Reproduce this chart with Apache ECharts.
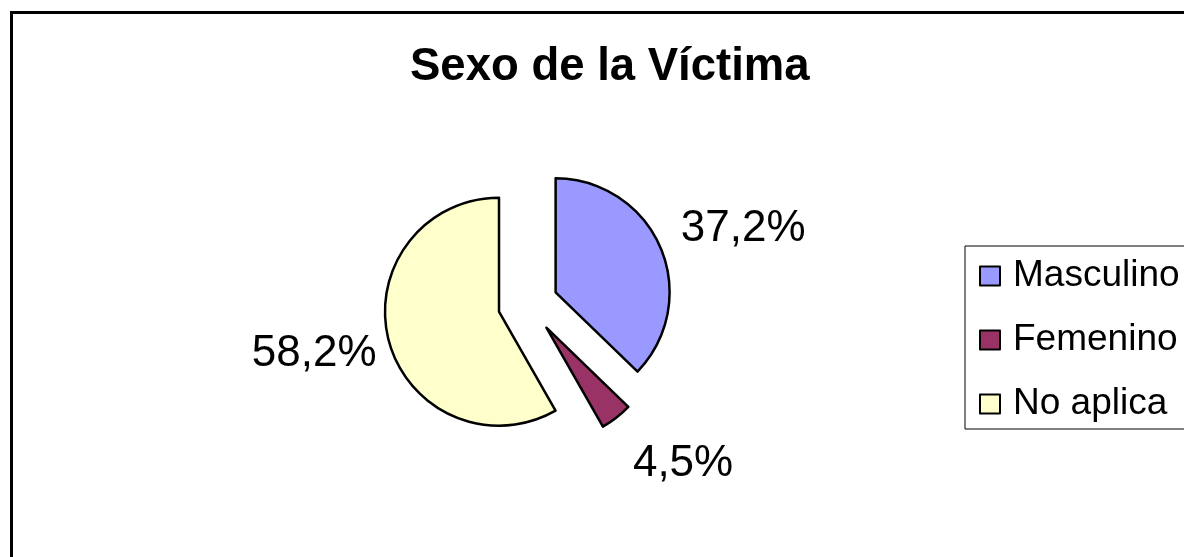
<!DOCTYPE html>
<html>
<head>
<meta charset="utf-8">
<script src="https://cdn.jsdelivr.net/npm/echarts@6/dist/echarts.min.js"></script>
<style>
  html, body { margin: 0; padding: 0; background: #fff; }
  #chart { width: 1184px; height: 557px; }
</style>
</head>
<body>
<div id="chart"></div>
<script>
// data
var categories = ['Masculino', 'Femenino', 'No aplica'];
var percents = [37.2, 4.5, 58.2];
var sliceColors = ['#9999FF', '#993366', '#FFFFCC'];

// label placement (distance out from slice, horizontal shift)
var labelLen = [48, 58, 51];
var labelLen2 = [-29, -24, -42];

var FONT = "'Liberation Sans', Arial, sans-serif";

var chart = echarts.init(document.getElementById('chart'));

var pieData = categories.map(function (name, i) {
  return {
    name: name,
    value: percents[i],
    selected: true,
    itemStyle: { color: sliceColors[i] },
    labelLine: { show: false, length: labelLen[i], length2: labelLen2[i] }
  };
});

var option = {
  backgroundColor: '#fff',
  animation: false,
  title: {
    text: 'Sexo de la Víctima',
    left: 410,
    top: 44,
    padding: 0,
    textStyle: {
      fontFamily: FONT,
      fontSize: 45.5,
      fontWeight: 'bold',
      color: '#000'
    }
  },
  legend: {
    orient: 'vertical',
    left: 965,
    top: 246,
    padding: [8, 60, 3, 14],
    borderColor: '#000',
    borderWidth: 1,
    itemWidth: 20,
    itemHeight: 19,
    itemGap: 20,
    icon: 'rect',
    itemStyle: { borderColor: '#000', borderWidth: 2 },
    textStyle: {
      fontFamily: FONT,
      fontSize: 37,
      lineHeight: 44,
      color: '#000',
      padding: [0, 0, 0, 8]
    },
    data: categories
  },
  graphic: [{
    type: 'rect',
    silent: true,
    shape: { x: 11.5, y: 12.5, width: 1300, height: 700 },
    style: { fill: 'none', stroke: '#000', lineWidth: 3 }
  }],
  series: [{
    type: 'pie',
    center: [528, 304],
    radius: 114,
    startAngle: 90,
    clockwise: true,
    selectedMode: 'multiple',
    selectedOffset: 30,
    avoidLabelOverlap: false,
    itemStyle: { borderColor: '#000', borderWidth: 2.5 },
    select: { itemStyle: { borderColor: '#000', borderWidth: 2.5 } },
    emphasis: { disabled: true },
    label: {
      show: true,
      position: 'outside',
      fontFamily: FONT,
      fontSize: 44,
      color: '#000',
      formatter: function (p) {
        return p.value.toFixed(1).replace('.', ',') + '%';
      }
    },
    labelLine: { show: false },
    data: pieData
  }]
};

chart.setOption(option);
</script>
</body>
</html>
